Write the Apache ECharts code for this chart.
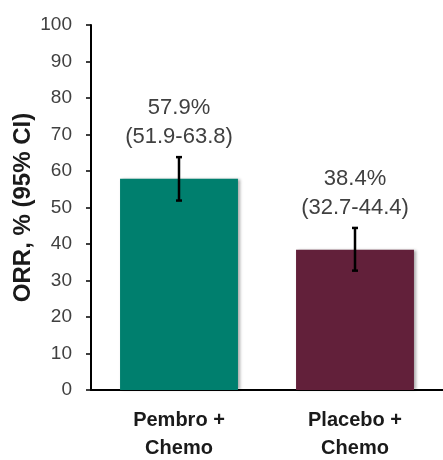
<!DOCTYPE html>
<html>
<head>
<meta charset="utf-8">
<script src="https://cdn.jsdelivr.net/npm/echarts@6/dist/echarts.min.js"></script>
<style>
  html, body { margin: 0; padding: 0; background: #fff; }
  #chart { width: 443px; height: 460px; }
</style>
</head>
<body>
<div id="chart"></div>
<script>
// Objective response rate by treatment arm, with 95% confidence intervals
const categories = ['Pembro +\nChemo', 'Placebo +\nChemo'];
const orr = [57.9, 38.4];
const ciLow = [51.9, 32.7];
const ciHigh = [63.8, 44.4];
const barColors = ['#007F6E', '#62203A'];
const yMin = 0, yMax = 100, yStep = 10;

const chart = echarts.init(document.getElementById('chart'), null, { renderer: 'canvas' });

const errData = categories.map((c, i) => [i, ciLow[i], ciHigh[i], orr[i]]);

chart.setOption({
  animation: false,
  grid: { left: 91, right: 0, top: 25, bottom: 70, outerBoundsMode: 'none', containLabel: false },
  xAxis: {
    type: 'category',
    data: categories,
    axisLine: { lineStyle: { color: '#000', width: 2 } },
    axisTick: { show: false },
    axisLabel: {
      color: '#1a1a1a',
      fontFamily: 'Liberation Sans, Arial, sans-serif',
      fontWeight: 'bold',
      fontSize: 20,
      lineHeight: 28,
      margin: 16
    }
  },
  yAxis: {
    type: 'value',
    min: yMin, max: yMax, interval: yStep,
    name: 'ORR, % (95% CI)',
    nameLocation: 'middle',
    nameGap: 56,
    nameMoveOverlap: false,
    nameTextStyle: {
      color: '#1a1a1a',
      fontFamily: 'Liberation Sans, Arial, sans-serif',
      fontWeight: 'bold',
      fontSize: 24
    },
    axisLine: { show: true, lineStyle: { color: '#000', width: 2 } },
    axisTick: { show: true, length: 5, lineStyle: { color: '#000', width: 1.5 } },
    axisLabel: {
      color: '#404040',
      fontFamily: 'Liberation Sans, Arial, sans-serif',
      fontSize: 19,
      margin: 19
    },
    splitLine: { show: false }
  },
  series: [
    {
      type: 'bar',
      barWidth: '67%',
      data: orr.map((v, i) => ({
        value: v,
        itemStyle: {
          color: barColors[i],
          shadowColor: 'rgba(0,0,0,0.35)',
          shadowBlur: 3,
          shadowOffsetX: 2,
          shadowOffsetY: 0
        }
      }))
    },
    {
      type: 'custom',
      data: errData,
      z: 10,
      renderItem: function (params, api) {
        const i = api.value(0);
        const lo = api.coord([i, api.value(1)]);
        const hi = api.coord([i, api.value(2)]);
        const cap = 3;
        const style = { stroke: '#000', lineWidth: 2.5 };
        return {
          type: 'group',
          children: [
            { type: 'line', shape: { x1: hi[0], y1: hi[1], x2: lo[0], y2: lo[1] }, style: style },
            { type: 'line', shape: { x1: hi[0] - cap, y1: hi[1], x2: hi[0] + cap, y2: hi[1] }, style: style },
            { type: 'line', shape: { x1: lo[0] - cap, y1: lo[1], x2: lo[0] + cap, y2: lo[1] }, style: style },
            {
              type: 'text',
              x: hi[0], y: hi[1] - 6,
              style: {
                text: api.value(3).toFixed(1) + '%\n(' + api.value(1).toFixed(1) + '-' + api.value(2).toFixed(1) + ')',
                fill: '#404040',
                font: '22px "Liberation Sans", Arial, sans-serif',
                lineHeight: 29,
                align: 'center',
                verticalAlign: 'bottom'
              }
            }
          ]
        };
      }
    }
  ]
});
</script>
</body>
</html>
